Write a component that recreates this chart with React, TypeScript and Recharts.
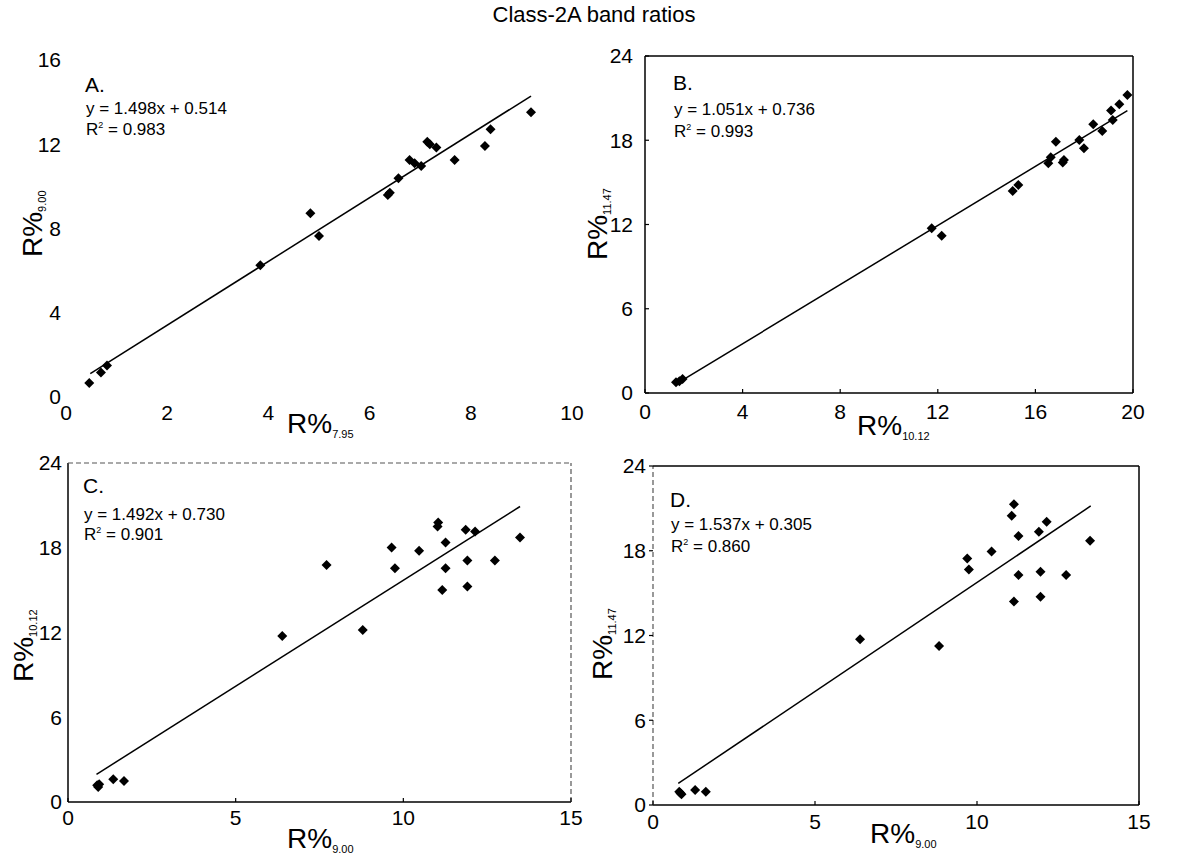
import React from 'react';
import { ScatterChart, Scatter, XAxis, YAxis, ReferenceLine } from 'recharts';

const FONT = '"Liberation Sans", Arial, Helvetica, sans-serif';

// Panel A: R%9.00 vs R%7.95
const aX = [0.46, 0.69, 0.81, 3.84, 4.83, 5.0, 6.36, 6.4, 6.57, 6.79, 6.89, 7.02, 7.14, 7.19, 7.32, 7.68, 8.28, 8.39, 9.19];
const aY = [0.67, 1.16, 1.5, 6.26, 8.72, 7.64, 9.59, 9.7, 10.38, 11.25, 11.1, 10.97, 12.12, 12.0, 11.85, 11.25, 11.92, 12.71, 13.52];
const aFitX = [0.48, 9.19];
const aFitY = [1.11, 14.29];
const aXTicks = [0, 2, 4, 6, 8, 10];
const aYTicks = [0, 4, 8, 12, 16];

// Panel B: R%11.47 vs R%10.12
const bX = [1.27, 1.41, 1.54, 11.75, 12.16, 15.07, 15.3, 16.53, 16.63, 16.84, 17.12, 17.17, 17.8, 17.99, 18.37, 18.74, 19.1, 19.17, 19.44, 19.77];
const bY = [0.76, 0.83, 1.0, 11.74, 11.19, 14.39, 14.82, 16.36, 16.79, 17.9, 16.41, 16.6, 18.02, 17.43, 19.14, 18.66, 20.11, 19.45, 20.56, 21.22];
const bFitX = [1.57, 19.77];
const bFitY = [0.95, 20.11];
const bXTicks = [0, 4, 8, 12, 16, 20];
const bYTicks = [0, 6, 12, 18, 24];

// Panel C: R%10.12 vs R%9.00
const cX = [0.87, 0.9, 0.93, 1.35, 1.67, 6.39, 7.71, 8.79, 9.65, 9.75, 10.47, 11.04, 11.02, 11.16, 11.26, 11.26, 11.86, 11.91, 11.91, 12.14, 12.73, 13.48];
const cY = [1.18, 1.06, 1.25, 1.61, 1.49, 11.75, 16.78, 12.17, 18.01, 16.55, 17.78, 19.79, 19.5, 15.01, 18.37, 16.55, 19.27, 17.09, 15.25, 19.15, 17.09, 18.72];
const cFitX = [0.85, 13.48];
const cFitY = [1.96, 20.92];
const cXTicks = [0, 5, 10, 15];
const cYTicks = [0, 6, 12, 18, 24];

// Panel D: R%11.47 vs R%9.00
const dX = [0.81, 0.85, 0.88, 1.3, 1.63, 6.39, 8.83, 9.7, 9.75, 10.45, 11.07, 11.14, 11.14, 11.28, 11.28, 11.91, 11.96, 11.96, 12.15, 12.75, 13.49];
const dY = [0.94, 0.83, 0.76, 1.06, 0.94, 11.73, 11.26, 17.46, 16.68, 17.94, 20.48, 21.29, 14.4, 19.04, 16.28, 19.35, 16.52, 14.75, 20.06, 16.28, 18.71];
const dFitX = [0.78, 13.51];
const dFitY = [1.53, 21.17];
const dXTicks = [0, 5, 10, 15];
const dYTicks = [0, 6, 12, 18, 24];

const zip = (xs: number[], ys: number[]) => xs.map((x, i) => ({ x, y: ys[i] }));

const Diamond = (props: any) => {
  const { cx, cy } = props;
  if (cx == null || cy == null) return <g />;
  const r = 5;
  return <path d={`M${cx},${cy - r}L${cx + r},${cy}L${cx},${cy + r}L${cx - r},${cy}Z`} fill="#000" />;
};

type Side = false | { stroke: string; strokeWidth: number; strokeDasharray?: string };

interface PanelProps {
  box: { l: number; t: number; w: number; h: number };
  plot: { l: number; r: number; t: number; b: number };
  xMax: number;
  yMax: number;
  xTicks: number[];
  yTicks: number[];
  xs: number[];
  ys: number[];
  fitX: number[];
  fitY: number[];
  bottom: Side;
  left: Side;
  top: Side;
  right: Side;
  xTickSize: number;
  xTickMargin: number;
  yTickSize: number;
  yTickMargin: number;
}

const SOLID = { stroke: '#000', strokeWidth: 1.5 };
const FAINT = { stroke: '#555', strokeWidth: 1.2, strokeDasharray: '5 3' };

function Panel(p: PanelProps) {
  const YW = 60;
  const XH = 40;
  const margin = {
    left: p.plot.l - p.box.l - YW,
    right: p.box.l + p.box.w - p.plot.r,
    top: p.plot.t - p.box.t,
    bottom: p.box.t + p.box.h - p.plot.b - XH,
  };
  const tickStyle = { fill: '#000', fontSize: 21, fontFamily: FONT };
  const lineSide = (s: Side) => (s ? { stroke: s.stroke, strokeWidth: s.strokeWidth, strokeDasharray: s.strokeDasharray } : null);
  const top = lineSide(p.top);
  const right = lineSide(p.right);
  const left = lineSide(p.left);
  const bottom = lineSide(p.bottom);
  return (
    <div style={{ position: 'absolute', left: p.box.l, top: p.box.t, width: p.box.w, height: p.box.h }}>
      <ScatterChart width={p.box.w} height={p.box.h} margin={margin}>
        <XAxis
          type="number"
          dataKey="x"
          domain={[0, p.xMax]}
          ticks={p.xTicks}
          interval={0}
          allowDataOverflow
          height={XH}
          axisLine={false}
          tickLine={p.xTickSize !== 0 ? { stroke: '#000', strokeWidth: 1.2 } : false}
          tickSize={p.xTickSize}
          tickMargin={p.xTickMargin}
          tick={tickStyle}
        />
        <YAxis
          type="number"
          dataKey="y"
          domain={[0, p.yMax]}
          ticks={p.yTicks}
          interval={0}
          allowDataOverflow
          width={YW}
          axisLine={false}
          tickLine={p.yTickSize !== 0 ? { stroke: '#000', strokeWidth: 1.2 } : false}
          tickSize={p.yTickSize}
          tickMargin={p.yTickMargin}
          tick={tickStyle}
        />
        {bottom && <ReferenceLine y={0} {...bottom} />}
        {left && <ReferenceLine x={0} {...left} />}
        {top && <ReferenceLine y={p.yMax} {...top} />}
        {right && <ReferenceLine x={p.xMax} {...right} />}
        <ReferenceLine
          segment={[{ x: p.fitX[0], y: p.fitY[0] }, { x: p.fitX[1], y: p.fitY[1] }]}
          stroke="#000"
          strokeWidth={1.5}
        />
        <Scatter data={zip(p.xs, p.ys)} shape={<Diamond />} isAnimationActive={false} />
      </ScatterChart>
    </div>
  );
}

function XTitle({ x, y, sub }: { x: number; y: number; sub: string }) {
  return (
    <text x={x} y={y} fontFamily={FONT} fontSize={28} fill="#000">
      R%
      <tspan fontSize={11} dy={5}>{sub}</tspan>
    </text>
  );
}

function YTitle({ x, y, sub }: { x: number; y: number; sub: string }) {
  return (
    <text x={0} y={0} transform={`translate(${x},${y}) rotate(-90)`} fontFamily={FONT} fontSize={28} fill="#000">
      R%
      <tspan fontSize={11} dy={4}>{sub}</tspan>
    </text>
  );
}

function Annot({ x, letterY, eqY, r2Y, letter, eq, r2 }: { x: number; letterY: number; eqY: number; r2Y: number; letter: string; eq: string; r2: string }) {
  return (
    <g fontFamily={FONT} fill="#000">
      <text x={x} y={letterY} fontSize={21}>{letter}</text>
      <text x={x + 1} y={eqY} fontSize={17}>{eq}</text>
      <text x={x + 1} y={r2Y} fontSize={17}>
        R<tspan fontSize={9} dy={-7}>2</tspan>
        <tspan dy={7}>{' = ' + r2}</tspan>
      </text>
    </g>
  );
}

export default function App() {
  return (
    <div style={{ position: 'absolute', left: 0, top: 0, width: 1185, height: 854, background: '#fff', overflow: 'hidden' }}>
      <Panel
        box={{ l: 0, t: 30, w: 600, h: 440 }}
        plot={{ l: 66, r: 572, t: 60, b: 397 }}
        xMax={10} yMax={16} xTicks={aXTicks} yTicks={aYTicks}
        xs={aX} ys={aY} fitX={aFitX} fitY={aFitY}
        bottom={false} left={false} top={false} right={false}
        xTickSize={0} xTickMargin={8} yTickSize={0} yTickMargin={5}
      />
      <Panel
        box={{ l: 580, t: 30, w: 600, h: 440 }}
        plot={{ l: 645, r: 1133, t: 56, b: 393 }}
        xMax={20} yMax={24} xTicks={bXTicks} yTicks={bYTicks}
        xs={bX} ys={bY} fitX={bFitX} fitY={bFitY}
        bottom={SOLID} left={SOLID} top={SOLID} right={SOLID}
        xTickSize={-4} xTickMargin={15} yTickSize={-4} yTickMargin={16}
      />
      <Panel
        box={{ l: 0, t: 450, w: 600, h: 400 }}
        plot={{ l: 68, r: 571, t: 463, b: 802 }}
        xMax={15} yMax={24} xTicks={cXTicks} yTicks={cYTicks}
        xs={cX} ys={cY} fitX={cFitX} fitY={cFitY}
        bottom={SOLID} left={SOLID} top={FAINT} right={FAINT}
        xTickSize={-4} xTickMargin={12} yTickSize={0} yTickMargin={6}
      />
      <Panel
        box={{ l: 580, t: 450, w: 600, h: 400 }}
        plot={{ l: 653, r: 1139, t: 466, b: 805 }}
        xMax={15} yMax={24} xTicks={dXTicks} yTicks={dYTicks}
        xs={dX} ys={dY} fitX={dFitX} fitY={dFitY}
        bottom={SOLID} left={FAINT} top={SOLID} right={SOLID}
        xTickSize={-4} xTickMargin={13} yTickSize={4} yTickMargin={3}
      />
      <svg width={1185} height={854} style={{ position: 'absolute', left: 0, top: 0, pointerEvents: 'none' }}>
        <text x={594} y={22} textAnchor="middle" fontFamily={FONT} fontSize={22} fill="#000">Class-2A band ratios</text>

        <Annot x={85} letterY={92} eqY={114} r2Y={135} letter="A." eq="y = 1.498x + 0.514" r2="0.983" />
        <Annot x={673} letterY={90} eqY={115} r2Y={137} letter="B." eq="y = 1.051x + 0.736" r2="0.993" />
        <Annot x={83} letterY={493} eqY={520} r2Y={540} letter="C." eq="y = 1.492x + 0.730" r2="0.901" />
        <Annot x={670} letterY={507} eqY={530} r2Y={552} letter="D." eq="y = 1.537x + 0.305" r2="0.860" />

        <XTitle x={287} y={433} sub="7.95" />
        <XTitle x={857} y={435} sub="10.12" />
        <XTitle x={287} y={848} sub="9.00" />
        <XTitle x={870} y={843} sub="9.00" />

        <YTitle x={42} y={257} sub="9.00" />
        <YTitle x={607} y={260} sub="11.47" />
        <YTitle x={33} y={682} sub="10.12" />
        <YTitle x={612} y={680} sub="11.47" />
      </svg>
    </div>
  );
}
